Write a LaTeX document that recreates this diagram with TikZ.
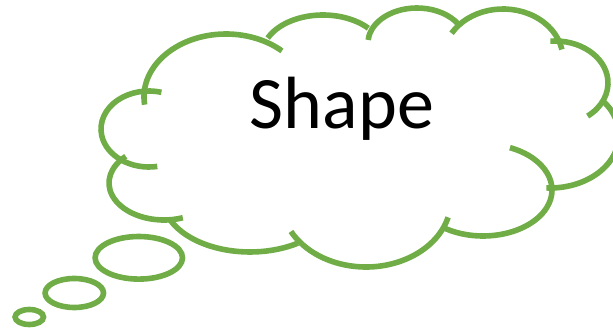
\documentclass[tikz,border=0pt]{standalone}
\usepackage{fontspec}
\setmainfont{Carlito}
\definecolor{bubblegreen}{HTML}{70AD47}
\begin{document}
\begin{tikzpicture}[
  x=1pt,y=-1pt,
  cloudline/.style={draw=bubblegreen,line width=5.6pt},
  bubble/.style={draw=bubblegreen,line width=5.6pt},
  caption/.style={font=\fontsize{74}{88}\selectfont,text=black,inner sep=0pt,anchor=base}
]
  \useasboundingbox (0,0) rectangle (613,328);

  % cloud lobes, left to right over the top, then back along the bottom
  \draw[cloudline] (226,97) ++(173:82 and 63) arc[start angle=173,end angle=313,x radius=82,y radius=63];
  \draw[cloudline] (323,55) ++(205:61 and 40) arc[start angle=205,end angle=318,x radius=61,y radius=40];
  \draw[cloudline] (417,43) ++(185:49 and 35) arc[start angle=185,end angle=327,x radius=49,y radius=35];
  \draw[cloudline] (503,59) ++(211:60 and 50) arc[start angle=211,end angle=349,x radius=60,y radius=50];
  \draw[cloudline] (555,83) ++(-95:53 and 42) arc[start angle=-95,end angle=52,x radius=53,y radius=42];
  \draw[cloudline] (550,135) ++(-41:69 and 53) arc[start angle=-41,end angle=93,x radius=69,y radius=53];
  \draw[cloudline] (483,190) ++(-67:69 and 46) arc[start angle=-67,end angle=123,x radius=69,y radius=46];
  \draw[cloudline] (366,200) ++(15:85 and 67) arc[start angle=15,end angle=152,x radius=85,y radius=67];
  \draw[cloudline] (250,197) ++(57:88 and 55) arc[start angle=57,end angle=155,x radius=88,y radius=55];
  \draw[cloudline] (164,183) ++(70:55 and 37) arc[start angle=70,end angle=226,x radius=55,y radius=37];
  \draw[cloudline] (149,129) ++(80:48 and 38) arc[start angle=80,end angle=285,x radius=48,y radius=38];

  % trailing bubbles
  \draw[bubble] (138.8,257.8) ellipse[x radius=43.7,y radius=21.3];
  \draw[bubble] (74.3,293) ellipse[x radius=29.2,y radius=14.5];
  \draw[bubble] (29.3,317) ellipse[x radius=14.2,y radius=7.5];

  \node[caption] (shapetext) at (342,129) {Shape};
\end{tikzpicture}
\end{document}
